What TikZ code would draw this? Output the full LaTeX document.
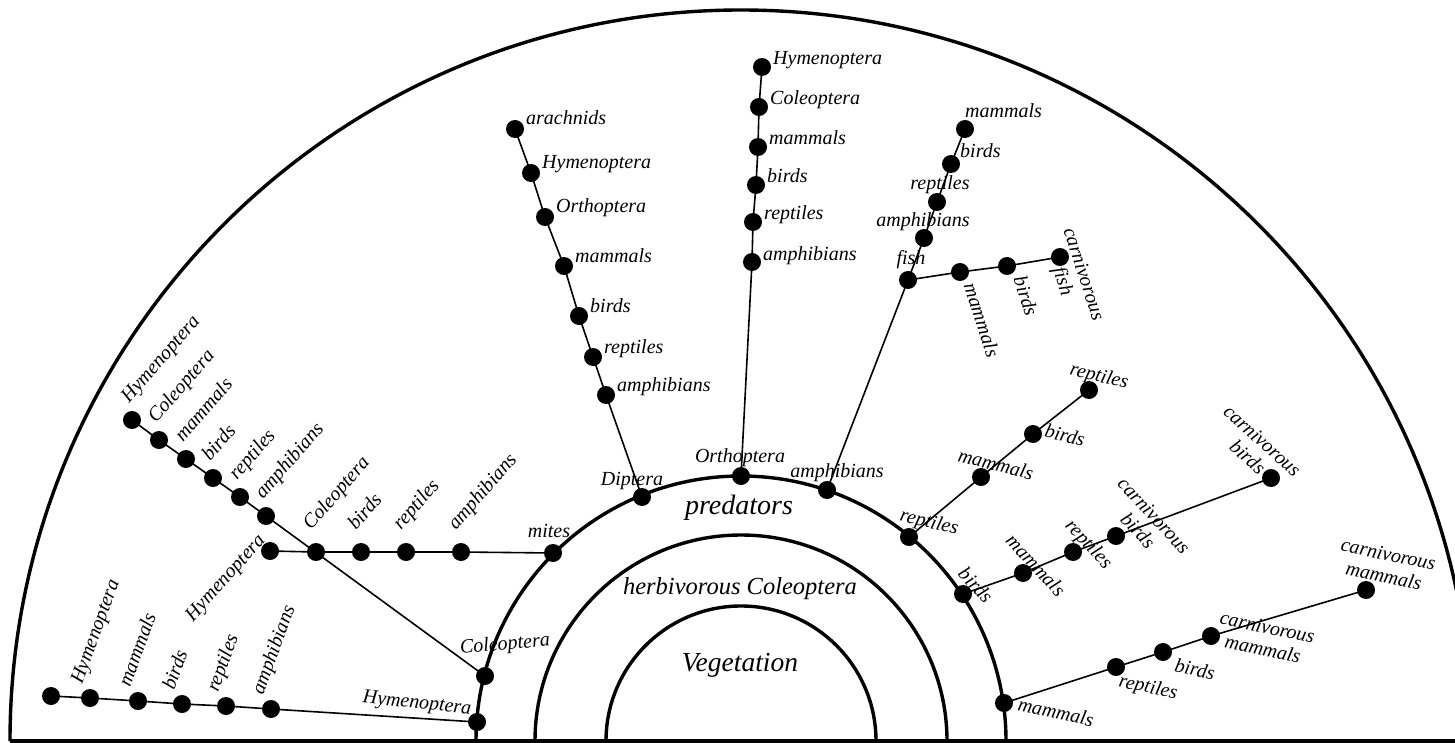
\documentclass[tikz,border=0pt]{standalone}
\usepackage{fontspec}
\setmainfont{Liberation Serif}
\tikzset{
  dot/.style={circle,fill=black,inner sep=0pt,minimum size=18pt},
  lab/.style={font=\fontsize{20}{22}\selectfont\itshape,inner sep=0pt},
  lab2/.style={lab,align=center},
  big/.style={font=\fontsize{#1}{#1}\selectfont\itshape,inner sep=0pt,anchor=base},
  branch/.style={line width=1.6pt},
  ring/.style={line width=3.4pt},
}
\begin{document}
\begin{tikzpicture}[x=1pt,y=-1pt]
\useasboundingbox (0,0) rectangle (1455,743);
\coordinate (C) at (741,741);
% rings and base line
\draw[ring] (C) ++(-731,0) arc[start angle=180,end angle=360,radius=731];
\draw[ring] (C) ++(-265,0) arc[start angle=180,end angle=360,radius=265];
\draw[ring] (C) ++(-206,0) arc[start angle=180,end angle=360,radius=206];
\draw[ring] (C) ++(-135,0) arc[start angle=180,end angle=360,radius=135];
\coordinate (bl) at (10,741);
\coordinate (br) at (1470,741);
\draw[ring] (bl) -- (br);
% ring titles
\node[big=28] (tpred) at (739,514) {predators};
\node[big=24.5] (therb) at (740,594) {herbivorous Coleoptera};
\node[big=27.5] (tveg) at (740,671) {Vegetation};
% nodes on the predators ring
\node[dot] (rHym) at (477,722) {};
\node[dot] (rCol) at (485,676) {};
\node[dot] (rMit) at (553,553) {};
\node[dot] (rDip) at (642,497) {};
\node[dot] (rOrt) at (741,476) {};
\node[dot] (rAmp) at (827,490) {};
\node[dot] (rRep) at (909,537) {};
\node[dot] (rBir) at (963,594) {};
\node[dot] (rMam) at (1004,703) {};
\node[lab,rotate=-6] (lrHym) at (417,704) {Hymenoptera};
\node[lab,rotate=5] (lrCol) at (505,645) {Coleoptera};
\node[lab,anchor=base] (lrMit) at (549,537) {mites};
\node[lab,anchor=base] (lrDip) at (632,485) {Diptera};
\node[lab,anchor=base] (lrOrt) at (740,462) {Orthoptera};
\node[lab,anchor=base] (lrAmp) at (837,477) {amphibians};
\node[lab,rotate=-14] (lrRep) at (929,523) {reptiles};
\node[lab,rotate=-47] (lrBir) at (976,585) {birds};
\node[lab,rotate=-12] (lrMam) at (1056,712) {mammals};
% branch A (bottom left)
\node[dot] (a1) at (271,709) {};
\node[dot] (a2) at (226,706) {};
\node[dot] (a3) at (182,704) {};
\node[dot] (a4) at (138,701) {};
\node[dot] (a5) at (90,698) {};
\node[dot] (a6) at (51,696) {};
\node[lab,rotate=70,anchor=base west] (la1) at (263,696) {amphibians};
\node[lab,rotate=70,anchor=base west] (la2) at (218,693) {reptiles};
\node[lab,rotate=70,anchor=base west] (la3) at (174,691) {birds};
\node[lab,rotate=70,anchor=base west] (la4) at (130,688) {mammals};
\node[lab,rotate=70,anchor=base west] (la5) at (82,685) {Hymenoptera};
% branch B (from Coleoptera)
\node[dot] (b1) at (266,516) {};
\node[dot] (b2) at (240,497) {};
\node[dot] (b3) at (213,478) {};
\node[dot] (b4) at (186,459) {};
\node[dot] (b5) at (159,440) {};
\node[dot] (b6) at (132,420) {};
\node[lab,rotate=49,anchor=base west] (lb1) at (263,500) {amphibians};
\node[lab,rotate=49,anchor=base west] (lb2) at (237,481) {reptiles};
\node[lab,rotate=49,anchor=base west] (lb3) at (210,462) {birds};
\node[lab,rotate=49,anchor=base west] (lb4) at (183,443) {mammals};
\node[lab,rotate=49,anchor=base west] (lb5) at (156,424) {Coleoptera};
\node[lab,rotate=49,anchor=base west] (lb6) at (129,404) {Hymenoptera};
% branch M (from mites)
\node[dot] (m1) at (461,552) {};
\node[dot] (m2) at (406,552) {};
\node[dot] (m3) at (361,552) {};
\node[dot] (m4) at (316,552) {};
\node[dot] (m5) at (270,551) {};
\node[lab,rotate=49,anchor=base west] (lm1) at (456,531) {amphibians};
\node[lab,rotate=49,anchor=base west] (lm2) at (401,531) {reptiles};
\node[lab,rotate=49,anchor=base west] (lm3) at (356,531) {birds};
\node[lab,rotate=49,anchor=base west] (lm4) at (311,531) {Coleoptera};
\node[lab,rotate=48,anchor=base east] (lm5) at (266,541) {Hymenoptera};
% branch D (from Diptera)
\node[dot] (d1) at (606,395) {};
\node[dot] (d2) at (593,357) {};
\node[dot] (d3) at (579,316) {};
\node[dot] (d4) at (564,266) {};
\node[dot] (d5) at (545,217) {};
\node[dot] (d6) at (531,173) {};
\node[dot] (d7) at (515,129) {};
\node[lab,anchor=base west] (ld1) at (617,391) {amphibians};
\node[lab,anchor=base west] (ld2) at (604,353) {reptiles};
\node[lab,anchor=base west] (ld3) at (590,312) {birds};
\node[lab,anchor=base west] (ld4) at (575,262) {mammals};
\node[lab,anchor=base west] (ld5) at (556,213) {Orthoptera};
\node[lab,anchor=base west] (ld6) at (542,169) {Hymenoptera};
\node[lab,anchor=base west] (ld7) at (526,125) {arachnids};
% branch O (from Orthoptera)
\node[dot] (o1) at (752,262) {};
\node[dot] (o2) at (753,222) {};
\node[dot] (o3) at (756,185) {};
\node[dot] (o4) at (758,147) {};
\node[dot] (o5) at (759,107) {};
\node[dot] (o6) at (762,67) {};
\node[lab,anchor=base west] (lo1) at (763,260) {amphibians};
\node[lab,anchor=base west] (lo2) at (764,220) {reptiles};
\node[lab,anchor=base west] (lo3) at (767,183) {birds};
\node[lab,anchor=base west] (lo4) at (769,145) {mammals};
\node[lab,anchor=base west] (lo5) at (770,105) {Coleoptera};
\node[lab,anchor=base west] (lo6) at (773,65) {Hymenoptera};
% branch F (from amphibians)
\node[dot] (f0) at (908,280) {};
\node[dot] (f1) at (924,238) {};
\node[dot] (f2) at (937,202) {};
\node[dot] (f3) at (951,164) {};
\node[dot] (f4) at (965,129) {};
\node[dot] (g1) at (960,272) {};
\node[dot] (g2) at (1007,266) {};
\node[dot] (g3) at (1060,257) {};
\node[lab,anchor=base] (lf0) at (911,265) {fish};
\node[lab,anchor=base] (lf1) at (923,227) {amphibians};
\node[lab,anchor=base] (lf2) at (940,190) {reptiles};
\node[lab,anchor=base west] (lf3) at (960,158) {birds};
\node[lab,anchor=base west] (lf4) at (965,118) {mammals};
\node[lab,rotate=-72] (lg1) at (982,320) {mammals};
\node[lab,rotate=-72] (lg2) at (1026,296) {birds};
\node[lab2,rotate=-72] (lg3) at (1072,278) {carnivorous\\fish};
% branch R (from reptiles)
\node[dot] (r1) at (981,477) {};
\node[dot] (r2) at (1033,434) {};
\node[dot] (r3) at (1089,390) {};
\node[lab,rotate=-14] (lr1) at (996,464) {mammals};
\node[lab,rotate=-14] (lr2) at (1065,435) {birds};
\node[lab,rotate=-14] (lr3) at (1099,377) {reptiles};
% branch S (from birds)
\node[dot] (s1) at (1023,573) {};
\node[dot] (s2) at (1073,552) {};
\node[dot] (s3) at (1116,536) {};
\node[dot] (s4) at (1271,478) {};
\node[lab,rotate=-47] (ls1) at (1036,565) {mammals};
\node[lab,rotate=-47] (ls2) at (1088,545) {reptiles};
\node[lab2,rotate=-47] (ls3) at (1146,523) {carnivorous\\birds};
\node[lab2,rotate=-42] (ls4) at (1255,449) {carnivorous\\birds};
% branch T (from mammals)
\node[dot] (t1) at (1116,667) {};
\node[dot] (t2) at (1163,652) {};
\node[dot] (t3) at (1211,636) {};
\node[dot] (t4) at (1366,590) {};
\node[lab,rotate=-12] (lt1) at (1148,688) {reptiles};
\node[lab,rotate=-12] (lt2) at (1195,669) {birds};
\node[lab2,rotate=-12] (lt3) at (1265,638) {carnivorous\\mammals};
\node[lab2,rotate=-12] (lt4) at (1386,565) {carnivorous\\mammals};
% connectors
\draw[branch] (rHym.center) -- (a1.center) -- (a2.center) -- (a3.center) -- (a4.center) -- (a5.center) -- (a6.center);
\draw[branch] (rCol.center) -- (b1.center) -- (b2.center) -- (b3.center) -- (b4.center) -- (b5.center) -- (b6.center);
\draw[branch] (rMit.center) -- (m1.center) -- (m2.center) -- (m3.center) -- (m4.center) -- (m5.center);
\draw[branch] (rDip.center) -- (d1.center) -- (d2.center) -- (d3.center) -- (d4.center) -- (d5.center) -- (d6.center) -- (d7.center);
\draw[branch] (rOrt.center) -- (o1.center) -- (o2.center) -- (o3.center) -- (o4.center) -- (o5.center) -- (o6.center);
\draw[branch] (rAmp.center) -- (f0.center) -- (f1.center) -- (f2.center) -- (f3.center) -- (f4.center);
\draw[branch] (f0.center) -- (g1.center) -- (g2.center) -- (g3.center);
\draw[branch] (rRep.center) -- (r1.center) -- (r2.center) -- (r3.center);
\draw[branch] (rBir.center) -- (s1.center) -- (s2.center) -- (s3.center) -- (s4.center);
\draw[branch] (rMam.center) -- (t1.center) -- (t2.center) -- (t3.center) -- (t4.center);
\end{tikzpicture}
\end{document}
